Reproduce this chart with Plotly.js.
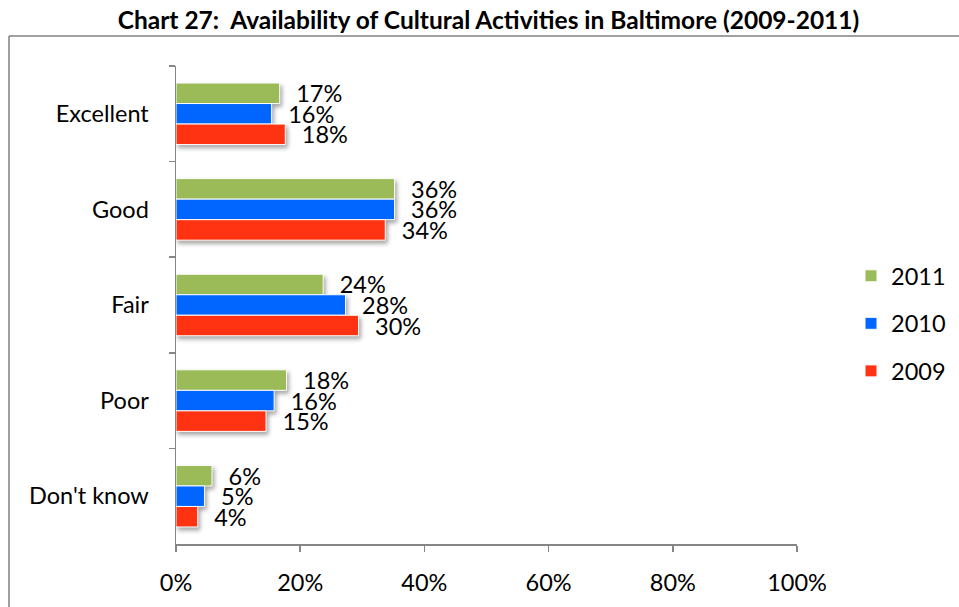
<!DOCTYPE html>
<html>
<head>
<meta charset="utf-8">
<script src="https://cdn.plot.ly/plotly-3.0.1.min.js"></script>
<style>
  html, body { margin: 0; padding: 0; background: #fff; }
  #chart { width: 959px; height: 607px; }
  .bars .point path { filter: drop-shadow(2px 3px 2px rgba(0,0,0,0.35)); }
</style>
</head>
<body>
<div id="chart"></div>
<script>
// Categories (top to bottom)
const categories = ["Excellent", "Good", "Fair", "Poor", "Don't know"];

// Series values (fractions)
const values2011 = [0.167, 0.352, 0.237, 0.178, 0.058];
const values2010 = [0.154, 0.352, 0.273, 0.158, 0.046];
const values2009 = [0.176, 0.337, 0.294, 0.145, 0.035];

// Data labels as printed on the chart
const labels2011 = ["17%", "36%", "24%", "18%", "6%"];
const labels2010 = ["16%", "36%", "28%", "16%", "5%"];
const labels2009 = ["18%", "34%", "30%", "15%", "4%"];

// X tick labels
const xTickVals = [0, 0.2, 0.4, 0.6, 0.8, 1.0];
const xTickText = ["0%", "20%", "40%", "60%", "80%", "100%"];

const FONT = "Lato, 'Open Sans', sans-serif";
const FS = 23.5;
const pad = "\u00a0\u00a0\u200a";

function series(name, vals, labs, color) {
  return {
    type: "bar",
    orientation: "h",
    name: name,
    y: categories,
    x: vals,
    text: labs.map(s => pad + s),
    textposition: "outside",
    constraintext: "none",
    cliponaxis: false,
    textfont: { family: FONT, size: FS, color: "#000" },
    marker: { color: color, line: { color: "#ffffff", width: 1 } },
    hoverinfo: "none",
    legendgroup: name
  };
}

const data = [
  series("2011", values2011, labels2011, "#9BBB59"),
  series("2010", values2010, labels2010, "#0066FF"),
  series("2009", values2009, labels2009, "#FF3311")
];

const L = 176, R = 797, T = 66, B = 544, W = 959, H = 607;
const px = x => (x - L) / (R - L);
const py = y => (B - y) / (B - T);

const layout = {
  width: W, height: H,
  margin: { l: L, r: W - R, t: T, b: H - B, pad: 0, autoexpand: false },
  paper_bgcolor: "#ffffff",
  plot_bgcolor: "rgba(0,0,0,0)",
  font: { family: FONT, size: FS, color: "#000" },
  title: {
    text: "<b>Chart 27:  Availability of Cultural Activities in Baltimore (2009-2011)</b>",
    font: { family: FONT, size: 24.5, color: "#000" },
    xref: "container", x: 488.5 / W, xanchor: "center",
    yref: "container", y: 1 - 20 / H, yanchor: "middle",
    automargin: false
  },
  barmode: "group",
  bargap: 0.356,
  bargroupgap: 0,
  showlegend: true,
  legend: {
    xref: "container", x: 851 / W, xanchor: "left",
    yref: "container", y: 1 - 254 / H, yanchor: "top",
    font: { family: FONT, size: FS, color: "#000" },
    traceorder: "grouped",
    tracegroupgap: 14,
    bgcolor: "rgba(0,0,0,0)"
  },
  xaxis: {
    range: [0, 1], autorange: false,
    tickvals: xTickVals, ticktext: xTickText,
    showgrid: false, zeroline: false,
    showline: true, linecolor: "#868686", linewidth: 1.5,
    ticks: "outside", ticklen: 6, tickcolor: "#868686", tickwidth: 1.5,
    ticklabelstandoff: 11,
    tickfont: { family: FONT, size: FS, color: "#000" },
    automargin: false,
    fixedrange: true
  },
  yaxis: {
    type: "category",
    autorange: "reversed",
    showgrid: false, zeroline: false,
    showline: true, linecolor: "#868686", linewidth: 1.5,
    ticks: "outside", ticklen: 6, tickcolor: "#868686", tickwidth: 1.5,
    tickson: "boundaries",
    ticklabelstandoff: 21,
    tickfont: { family: FONT, size: FS, color: "#000" },
    automargin: false,
    fixedrange: true
  },
  shapes: [
    { type: "line", xref: "paper", yref: "paper",
      x0: px(9), x1: px(9), y0: py(36), y1: py(607),
      line: { color: "#808080", width: 1.5 } },
    { type: "line", xref: "paper", yref: "paper",
      x0: px(9), x1: px(959), y0: py(36), y1: py(36),
      line: { color: "#808080", width: 1.5 } }
  ]
};

Plotly.newPlot("chart", data, layout, { staticPlot: true, displayModeBar: false });
</script>
</body>
</html>
